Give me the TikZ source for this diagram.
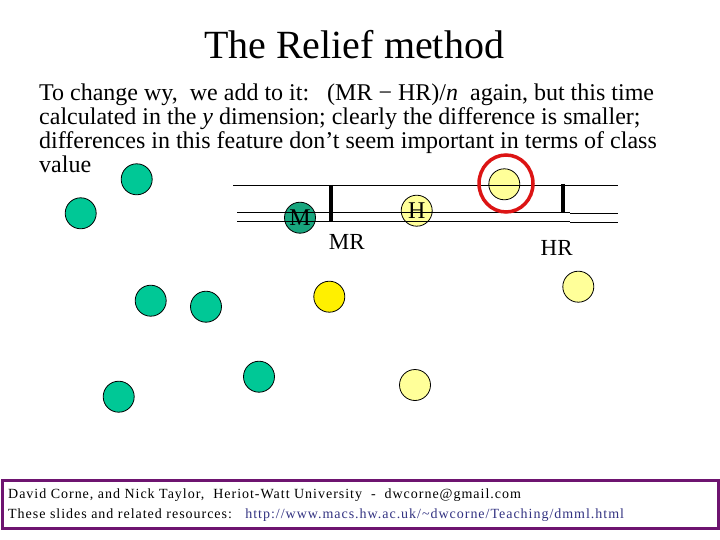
\documentclass[tikz,border=0pt]{standalone}
\usepackage{fontspec}
\setmainfont{Liberation Serif}
\newfontfamily\footfont[LetterSpace=7]{Liberation Serif}
\definecolor{teal1}{RGB}{0,200,150}
\definecolor{teal2}{RGB}{24,166,126}
\definecolor{paley}{RGB}{255,255,153}
\definecolor{bright}{RGB}{255,240,0}
\definecolor{redc}{RGB}{220,20,20}
\definecolor{frame}{RGB}{110,20,112}
\definecolor{link}{RGB}{51,51,130}
\tikzset{
  dot/.style={circle, draw=black, line width=0.8pt, minimum size=31pt, inner sep=0pt},
  tdot/.style={dot, fill=teal1},
  ydot/.style={dot, fill=paley},
  body/.style={anchor=base west, inner sep=0pt, font=\fontsize{24}{24}\selectfont},
  foot/.style={anchor=base west, inner sep=0pt, font=\footfont\fontsize{14}{14}\selectfont},
  thinl/.style={line width=0.9pt},
  bar/.style={line width=4pt}
}
\begin{document}
\begin{tikzpicture}[x=1pt,y=-1pt]
\useasboundingbox[fill=white] (0,0) rectangle (720,540);
% title
\node[anchor=base, inner sep=0pt, font=\fontsize{40}{40}\selectfont] (title) at (354,58.5) {The Relief method};
% body text
\node[body] (l1) at (39,100.5) {To change wy,\ \ we add to it:\ \ \ (MR − HR)/\textit{n}\ \ again, but this time};
\node[body] (l2) at (39,125) {calculated in the \textit{y} dimension; clearly the difference is smaller;};
\node[body] (l3) at (39,149) {differences in this feature don’t seem important in terms of class};
\node[body] (l4) at (39,173) {value};
% circles under the lines
\node[dot, fill=teal2] (m) at (300,217.7) {};
\node[ydot] (h) at (416.7,210.7) {};
\node[ydot] (sel) at (504.3,184.3) {};
% lines
\draw[thinl] (233,185) -- (618,185);
\draw[thinl] (237,212.7) -- (570,212.7);
\draw[thinl] (237,221) -- (570,221);
\draw[thinl] (570,213.3) -- (618,213.3);
\draw[thinl] (570,222.3) -- (618,222.3);
\coordinate (mrt) at (331,185);
\coordinate (mrb) at (331,221.5);
\coordinate (hrt) at (563,184);
\coordinate (hrb) at (563,212);
\draw[bar] (mrt) -- (mrb);
\draw[bar] (hrt) -- (hrb);
\node[inner sep=0pt, font=\fontsize{24}{24}\selectfont] (mlab) at (m.center) {M};
\node[inner sep=0pt, font=\fontsize{24}{24}\selectfont] (hlab) at (h.center) {H};
\draw[redc, line width=3.5pt] (506,183.5) ellipse [x radius=27, y radius=28.5];
\node[inner sep=0pt, font=\fontsize{23}{23}\selectfont] (mr) at (346.7,241.5) {MR};
\node[inner sep=0pt, font=\fontsize{23}{23}\selectfont] (hr) at (556.7,248) {HR};
% other points
\node[tdot] (t1) at (136.7,179.3) {};
\node[tdot] (t2) at (80.7,213.3) {};
\node[tdot] (t3) at (150.7,300.7) {};
\node[tdot] (t4) at (206,306.7) {};
\node[tdot] (t5) at (118.7,396.7) {};
\node[tdot] (t6) at (259,376.7) {};
\node[dot, fill=bright] (y1) at (329.3,296.7) {};
\node[ydot] (y2) at (578.3,286.7) {};
\node[ydot] (y3) at (415,385) {};
% footer
\draw[frame, line width=3pt] (2.5,480) rectangle (718.5,528);
\node[foot] (f1) at (8,498.3) {David Corne, and Nick Taylor,\ \ Heriot-Watt University\ \ -\ \ dwcorne@gmail.com};
\node[foot] (f2) at (8,518.3) {These slides and related resources:\ \ \ \textcolor{link}{http://www.macs.hw.ac.uk/\textasciitilde dwcorne/Teaching/dmml.html}};
\end{tikzpicture}
\end{document}
